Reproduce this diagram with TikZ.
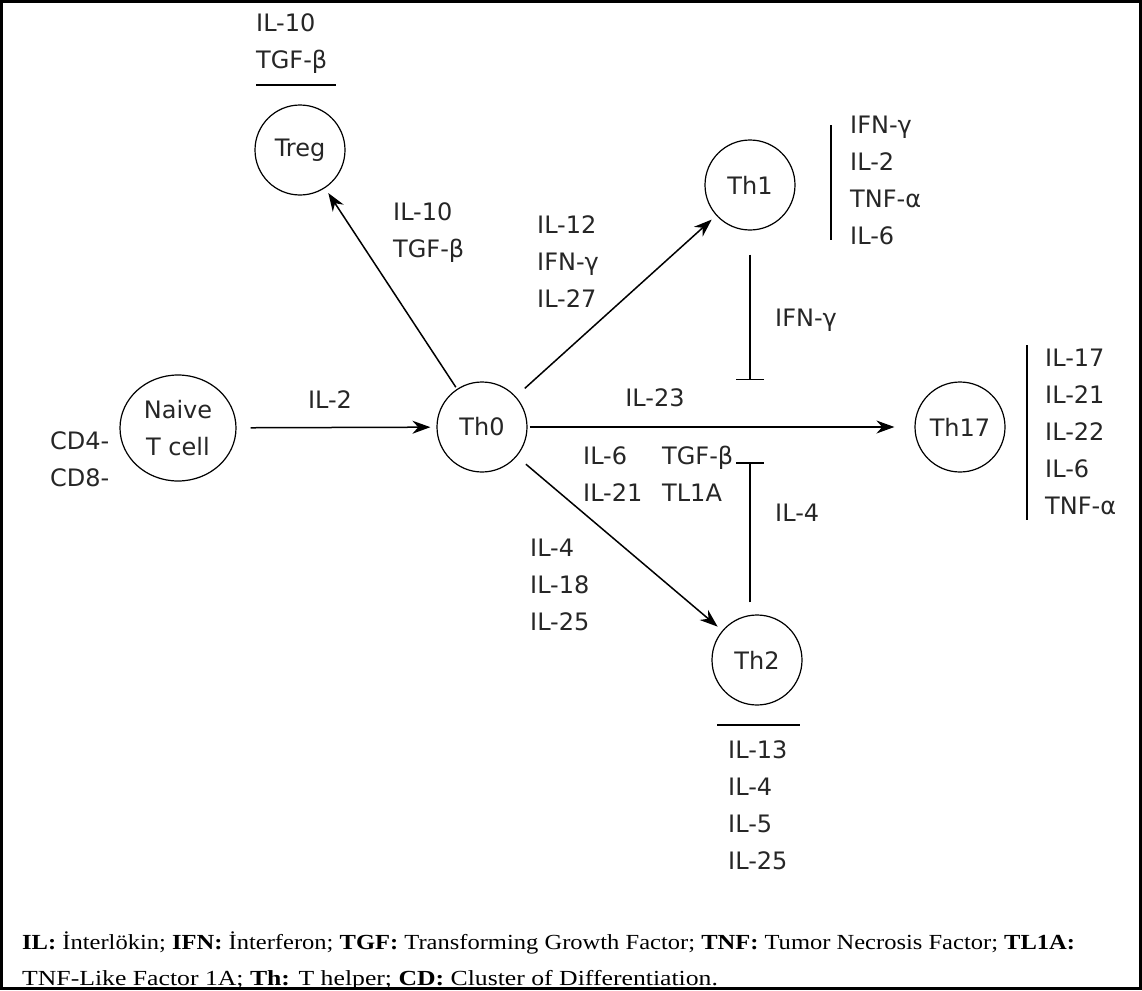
\documentclass[tikz,border=0pt]{standalone}
\usepackage{graphicx}
\usepackage{fontspec}
\setmainfont{DejaVu Sans}
\newfontfamily\legendfont{Liberation Serif}
\usetikzlibrary{arrows.meta,shapes.geometric}
\begin{document}
\begin{tikzpicture}[x=1pt,y=-1pt,
  cell/.style={draw, circle, minimum size=90pt, inner sep=0, line width=1.2pt, text=black!85, font=\fontsize{24}{37}\selectfont},
  lbl/.style={font=\fontsize{24}{37}\selectfont, align=left, inner sep=0, text=black!85},
  arr/.style={-{Stealth[length=18pt,width=13pt]}, line width=1.5pt},
  inh/.style={-{Bar[width=28pt]}, line width=1.5pt},
  rulel/.style={line width=1.5pt},
  leg/.style={anchor=west, inner sep=0, font=\legendfont\fontsize{21.5}{24}\selectfont}]
\useasboundingbox (0,0) rectangle (1142,990);
\draw[line width=3pt] (1.5,1.5) rectangle (1140.5,988.5);
% cells
\node[cell] (treg) at (300,150) {Treg};
\node[cell] (th1) at (750,185) {Th1};
\node[cell] (th0) at (482,427) {Th0};
\node[cell] (th17) at (960,427) {Th17};
\node[cell] (th2) at (757,660) {Th2};
\node[cell, ellipse, minimum width=116pt, minimum height=106pt, align=center] (naive) at (178,428) {Naive\\T cell};
% arrows
\draw[arr, shorten <=14pt, shorten >=6pt] (naive) -- (th0);
\draw[arr, shorten <=2pt, shorten >=6pt] (th0) -- (treg);
\draw[arr, shorten <=12pt, shorten >=6pt] (th0) -- (th1);
\draw[arr, shorten <=2pt, shorten >=20pt] (th0) -- (th17);
\draw[arr, shorten <=12pt, shorten >=6pt] (th0) -- (th2);
% inhibitions
\coordinate (inh1) at (750,380);
\coordinate (inh2) at (750,462);
\draw[inh, shorten <=24pt] (th1.south -| inh1) -- (inh1);
\draw[inh, shorten <=12pt] (th2.north -| inh2) -- (inh2);
% rules
\coordinate (r1a) at (256,85); \coordinate (r1b) at (336,85);
\draw[rulel] (r1a) -- (r1b);
\coordinate (r2a) at (831,125); \coordinate (r2b) at (831,240);
\draw[rulel] (r2a) -- (r2b);
\coordinate (r3a) at (1027,345); \coordinate (r3b) at (1027,520);
\draw[rulel] (r3a) -- (r3b);
\coordinate (r4a) at (717,725); \coordinate (r4b) at (800,725);
\draw[rulel] (r4a) -- (r4b);
% labels
\node[lbl, anchor=west] (tregout) at (256,44) {IL-10\\TGF-β};
\node[lbl, anchor=west] (tregin) at (393,233) {IL-10\\TGF-β};
\node[lbl, anchor=west] (th1in) at (537,262) {IL-12\\IFN-γ\\IL-27};
\node[lbl, anchor=west] (th1out) at (850,180) {IFN-γ\\IL-2\\TNF-α\\IL-6};
\node[lbl, anchor=west] (ifn) at (775,320) {IFN-γ};
\node[lbl] (il2) at (330,400) {IL-2};
\node[lbl] (il23) at (655,398) {IL-23};
\node[lbl, anchor=west] (th17a) at (583,474) {IL-6\\IL-21};
\node[lbl, anchor=west] (th17b) at (662,474) {TGF-β\\TL1A};
\node[lbl, anchor=west] (il4) at (775,513) {IL-4};
\node[lbl, anchor=west] (th2in) at (530,585) {IL-4\\IL-18\\IL-25};
\node[lbl, anchor=west] (th2out) at (728,805) {IL-13\\IL-4\\IL-5\\IL-25};
\node[lbl, anchor=west] (th17out) at (1045,432) {IL-17\\IL-21\\IL-22\\IL-6\\TNF-α};
\node[lbl, anchor=west] (cd) at (50,459) {CD4-\\CD8-};
% legend
\node[leg] (leg1) at (22,943) {\scalebox{1.141}[1]{\textbf{IL:} İnterlökin; \textbf{IFN:} İnterferon; \textbf{TGF:} Transforming Growth Factor; \textbf{TNF:} Tumor Necrosis Factor; \textbf{TL1A:}}};
\node[leg] (leg2) at (22,980) {\scalebox{1.196}[1]{TNF-Like Factor 1A; \textbf{Th:} T helper; \textbf{CD:} Cluster of Differentiation.}};
\end{tikzpicture}
\end{document}
